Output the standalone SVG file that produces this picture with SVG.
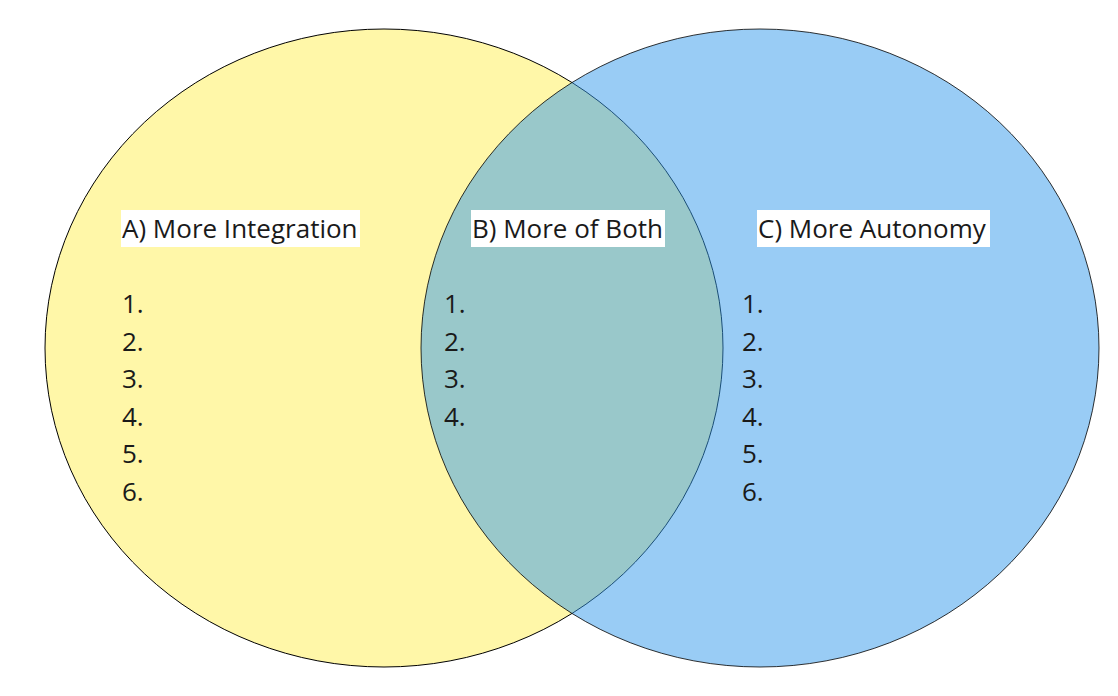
<svg xmlns="http://www.w3.org/2000/svg" width="1118" height="696" viewBox="0 0 1118 696">
<style>
.t{font-family:"Open Sans","Noto Sans",sans-serif;font-size:26px;fill:#1a1a1a}
.bg{fill:#ffffff}
.c{stroke:#000;stroke-width:1}
</style>
<rect width="1118" height="696" fill="#fff"/>
<g id="circleA"><ellipse class="c" cx="384" cy="348" rx="339" ry="319" fill="#FFF7A8"/></g>
<g id="circleC"><ellipse class="c" cx="760" cy="348" rx="339" ry="319" fill="#3399EB" fill-opacity="0.5" stroke-opacity="0.8"/></g>
<g id="labelA">
<rect class="bg" x="121" y="210" width="239" height="37"/>
<text class="t" x="122" y="238">A) More Integration</text>
<text class="t" x="122" y="313">1.</text>
<text class="t" x="122" y="350.5">2.</text>
<text class="t" x="122" y="388">3.</text>
<text class="t" x="122" y="425.5">4.</text>
<text class="t" x="122" y="463">5.</text>
<text class="t" x="122" y="500.5">6.</text>
</g>
<g id="labelB">
<rect class="bg" x="471" y="210" width="194" height="37"/>
<text class="t" x="472" y="238">B) More of Both</text>
<text class="t" x="444" y="313">1.</text>
<text class="t" x="444" y="350.5">2.</text>
<text class="t" x="444" y="388">3.</text>
<text class="t" x="444" y="425.5">4.</text>
</g>
<g id="labelC">
<rect class="bg" x="757" y="210" width="233" height="37"/>
<text class="t" x="758" y="238">C) More Autonomy</text>
<text class="t" x="742" y="313">1.</text>
<text class="t" x="742" y="350.5">2.</text>
<text class="t" x="742" y="388">3.</text>
<text class="t" x="742" y="425.5">4.</text>
<text class="t" x="742" y="463">5.</text>
<text class="t" x="742" y="500.5">6.</text>
</g>
</svg>
